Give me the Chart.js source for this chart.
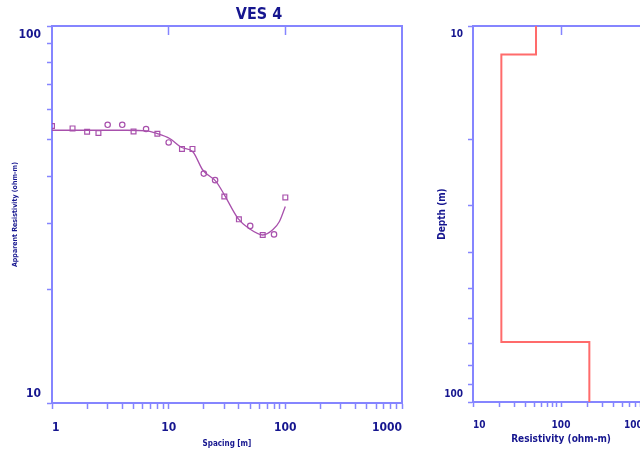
<!DOCTYPE html>
<html>
<head>
<meta charset="utf-8">
<script src="https://cdn.jsdelivr.net/npm/chart.js@4.4.1/dist/chart.umd.min.js"></script>
<style>
  html, body { margin: 0; padding: 0; background: #fff; overflow: hidden; }
  #wrap { position: relative; width: 640px; height: 450px; overflow: hidden; }
  #ves { position: absolute; left: 0; top: 0; }
  #model { position: absolute; left: 420px; top: 0; }
  #title {
    position: absolute; left: 0; top: 5px; width: 518px; text-align: center;
    font: bold 16px/18px 'Liberation Sans Narrow', 'DejaVu Sans Condensed', sans-serif;
    color: #16168f;
  }
</style>
</head>
<body>
<div id="wrap">
  <canvas id="ves" width="420" height="450"></canvas>
  <canvas id="model" width="260" height="450"></canvas>
  <div id="title">VES 4</div>
</div>
<script>
// field readings (square and circle markers)
const spacingSq = [1, 1.5, 2, 2.5, 5, 8, 13, 16, 30, 40, 64, 100];
const rhoSq = [54.3, 53.5, 52.4, 52.0, 52.5, 51.8, 47.2, 47.2, 35.3, 30.7, 27.9, 35.1];
const spacingCi = [3, 4, 6.4, 10, 20, 25, 50, 80];
const rhoCi = [54.7, 54.7, 53.3, 49.1, 40.6, 39.0, 29.5, 28.0];

// model response curve
const fitX = [1, 4.4, 6.5, 7.9, 10.2, 12.8, 16.1, 19.6, 25.6, 30.1, 39.2, 49.1, 64, 78, 89, 100];
const fitY = [52.9, 52.9, 52.7, 51.9, 50.3, 47.7, 46.4, 41.5, 38.6, 35.6, 30.9, 29.0, 27.9, 28.8, 30.3, 33.2];

// layered model: resistivity of each layer, depth of layer tops
const layerRho = [52, 21, 210];
const layerTop = [10, 11.9, 69.3];
const modelBase = 100;

// tick labels
const spacingTicks = [1, 10, 100, 1000];
const rhoTicks = [10, 100];
const resTicks = [10, 100, 1000];
const depthTicks = [10, 100];
const topMarksL = [10, 100];
const topMarksR = [100];

const NAVY = '#16168f';
const AXIS = '#8585ff';
const PURPLE = '#a850ac';
const RED = '#ff6b6b';
const FONT = "'Liberation Sans Narrow', 'DejaVu Sans Condensed', sans-serif";

function fixSize(px) {
    return function (s) {
        if (s.isHorizontal()) s.height = px; else s.width = px;
    };
}

// keep only 1..9 x 10^n ticks
function decadeTicks(s) {
    s.ticks = s.ticks.filter(t => {
        const m = t.value / Math.pow(10, Math.floor(Math.log10(t.value) + 1e-9));
        return Math.abs(m - Math.round(m)) < 1e-6;
    });
}

function pts(xs, ys) {
    return xs.map((x, i) => ({ x: x, y: ys[i] }));
}

function topBorder(min, max, marks) {
    return {
        type: 'logarithmic', axis: 'x', position: 'top', min: min, max: max,
        afterFit: fixSize(0),
        afterBuildTicks: decadeTicks,
        border: { color: AXIS, width: 2 },
        grid: {
            drawOnChartArea: false, tickLength: -9, tickWidth: 1.5,
            tickColor: c => (c.tick && marks.includes(c.tick.value)) ? AXIS : 'rgba(0,0,0,0)'
        },
        ticks: { display: false }
    };
}

// ---- VES sounding curve
new Chart(document.getElementById('ves'), {
    type: 'scatter',
    data: {
        datasets: [
            {
                data: pts(fitX, fitY),
                showLine: true,
                borderColor: PURPLE,
                borderWidth: 1.3,
                pointRadius: 0,
                cubicInterpolationMode: 'monotone',
                xAxisID: 'x', yAxisID: 'y'
            },
            {
                data: pts(spacingSq, rhoSq),
                pointStyle: 'rect',
                pointRadius: 3.4,
                borderColor: PURPLE,
                backgroundColor: 'rgba(0,0,0,0)',
                borderWidth: 1.2,
                xAxisID: 'x', yAxisID: 'y'
            },
            {
                data: pts(spacingCi, rhoCi),
                pointStyle: 'circle',
                pointRadius: 2.7,
                borderColor: PURPLE,
                backgroundColor: 'rgba(0,0,0,0)',
                borderWidth: 1.2,
                xAxisID: 'x', yAxisID: 'y'
            }
        ]
    },
    options: {
        responsive: false,
        animation: false,
        events: [],
        layout: { padding: { left: 0, top: 26, right: 18, bottom: 0 } },
        plugins: { legend: { display: false }, tooltip: { enabled: false } },
        scales: {
            x: {
                type: 'logarithmic', position: 'bottom', min: 1, max: 1000,
                afterFit: fixSize(47),
                afterBuildTicks: decadeTicks,
                border: { color: AXIS, width: 2 },
                grid: { drawOnChartArea: false, tickLength: 6, tickWidth: 1.5, tickColor: AXIS },
                ticks: {
                    autoSkip: false, maxRotation: 0, align: 'inner', padding: 12,
                    color: NAVY, font: { family: FONT, size: 12, weight: 'bold' },
                    callback: v => spacingTicks.includes(v) ? String(v) : ''
                },
                title: {
                    display: true, text: 'Spacing [m]', color: NAVY,
                    font: { family: FONT, size: 8, weight: 'bold' },
                    padding: { top: 0, bottom: 1 }
                }
            },
            y: {
                type: 'logarithmic', position: 'left', min: 10, max: 100,
                afterFit: fixSize(52),
                afterBuildTicks: decadeTicks,
                border: { color: AXIS, width: 2 },
                grid: { drawOnChartArea: false, tickLength: 5, tickWidth: 1.5, tickColor: AXIS },
                ticks: {
                    autoSkip: false, padding: 6,
                    color: NAVY, font: { family: FONT, size: 12, weight: 'bold', lineHeight: 1.5 },
                    callback: v => v === rhoTicks[1] ? ['', String(v)] : (v === rhoTicks[0] ? [String(v), ''] : '')
                },
                title: {
                    display: true, text: 'Apparent Resistivity (ohm-m)', color: NAVY,
                    font: { family: FONT, size: 7, weight: 'bold' },
                    padding: { top: 11, bottom: 0 }
                }
            },
            xTop: topBorder(1, 1000, topMarksL),
            yRight: {
                type: 'linear', axis: 'y', position: 'right',
                afterFit: fixSize(0),
                border: { color: AXIS, width: 2 },
                grid: { drawOnChartArea: false, drawTicks: false },
                ticks: { display: false }
            }
        }
    }
});

// ---- layered model
const modelX = layerRho.concat([layerRho[layerRho.length - 1]]);
const modelY = layerTop.concat([modelBase]);

new Chart(document.getElementById('model'), {
    type: 'scatter',
    data: {
        datasets: [{
            data: pts(modelX, modelY),
            showLine: true,
            stepped: 'after',
            borderColor: RED,
            borderWidth: 2,
            pointRadius: 0,
            xAxisID: 'x', yAxisID: 'y'
        }]
    },
    options: {
        responsive: false,
        animation: false,
        events: [],
        layout: { padding: { left: 0, top: 26, right: 31, bottom: 0 } },
        plugins: { legend: { display: false }, tooltip: { enabled: false } },
        scales: {
            x: {
                type: 'logarithmic', position: 'bottom', min: 10, max: 1000,
                afterFit: fixSize(48),
                afterBuildTicks: decadeTicks,
                border: { color: AXIS, width: 2 },
                grid: { drawOnChartArea: false, tickLength: 5, tickWidth: 1.5, tickColor: AXIS },
                ticks: {
                    autoSkip: false, maxRotation: 0, align: 'inner', padding: 12,
                    color: NAVY, font: { family: FONT, size: 10, weight: 'bold' },
                    callback: v => resTicks.includes(v) ? String(v) : ''
                },
                title: {
                    display: true, text: 'Resistivity (ohm-m)', color: NAVY,
                    font: { family: FONT, size: 10, weight: 'bold' },
                    padding: { top: 0, bottom: 5 }
                }
            },
            y: {
                type: 'logarithmic', position: 'left', reverse: true, min: 10, max: 100,
                afterFit: fixSize(53),
                afterBuildTicks: decadeTicks,
                border: { color: AXIS, width: 2 },
                grid: { drawOnChartArea: false, tickLength: 5, tickWidth: 1.5, tickColor: AXIS },
                ticks: {
                    autoSkip: false, padding: 5,
                    color: NAVY, font: { family: FONT, size: 10, weight: 'bold', lineHeight: 1.6 },
                    callback: v => v === depthTicks[0] ? ['', String(v)] : (v === depthTicks[1] ? [String(v), ''] : '')
                },
                title: {
                    display: true, text: 'Depth (m)', color: NAVY,
                    font: { family: FONT, size: 10, weight: 'bold' },
                    padding: { top: 16, bottom: 0 }
                }
            },
            xTop: topBorder(10, 1000, topMarksR)
        }
    }
});
</script>
</body>
</html>
